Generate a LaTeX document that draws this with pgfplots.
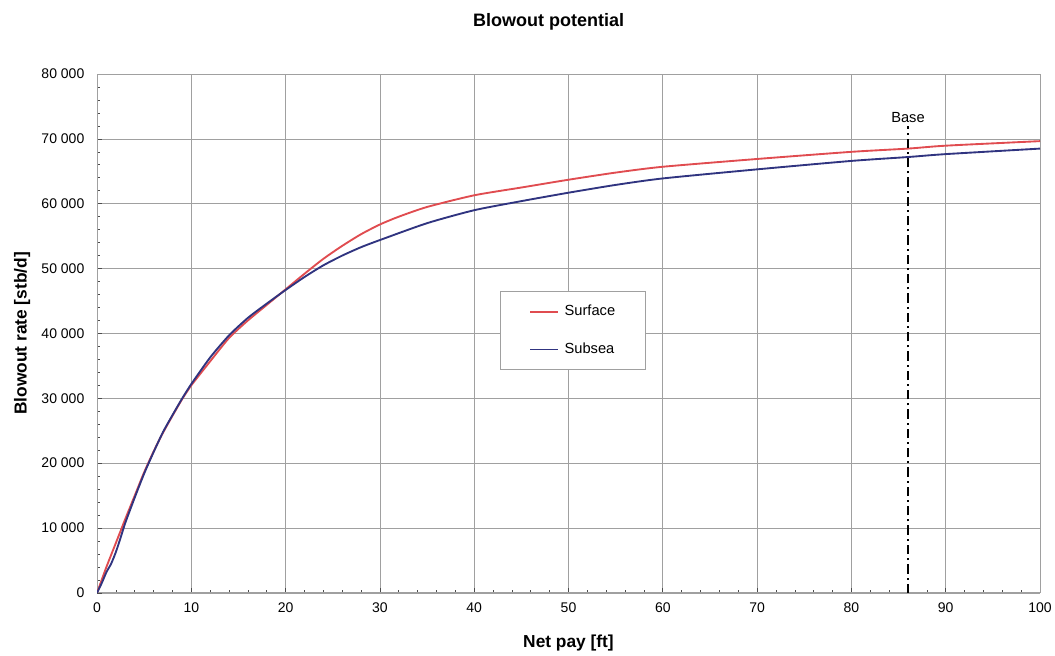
\documentclass[border=0pt]{standalone}
\usepackage{fontspec}
\setmainfont{Liberation Sans}
\usepackage{pgfplots}
\pgfplotsset{compat=1.18}
\definecolor{surfred}{RGB}{224,76,80}
\definecolor{subblue}{RGB}{48,52,128}
\definecolor{gridgray}{RGB}{160,160,160}
\begin{document}
\begin{tikzpicture}
\begin{axis}[
  name=ax,
  scale only axis,
  width=707pt, height=389pt,
  xmin=0, xmax=100, ymin=0, ymax=80000,
  xtick={0,10,...,100},
  ytick={0,10000,...,80000},
  minor x tick num=4,
  minor y tick num=4,
  xtick pos=left, ytick pos=left,
  tick align=inside,
  major tick length=4pt,
  minor tick length=2.5pt,
  every tick/.style={black!70, line width=0.5pt},
  grid=major,
  major grid style={gridgray, line width=0.5pt},
  axis line style={gridgray, line width=0.6pt},
  scaled y ticks=false,
  /pgf/number format/assume math mode=true,
  /pgf/number format/1000 sep={\ },
  ticklabel style={font=\fontsize{10.5}{12}\selectfont},
  xticklabel style={yshift=-3.5pt},
  yticklabel style={xshift=-6pt},
  title={\textbf{Blowout potential}},
  title style={font=\fontsize{13.5}{16}\selectfont, at={(axis description cs:0.479,1.085)}, anchor=center},
  xlabel={\textbf{Net pay [ft]}},
  xlabel style={font=\fontsize{13}{15}\selectfont, at={(axis description cs:0.5,-0.096)}, anchor=center},
  ylabel={\textbf{Blowout rate [stb/d]}},
  ylabel style={font=\fontsize{13}{15}\selectfont, at={(axis description cs:-0.0795,0.5)}, anchor=center, rotate=0},
  legend style={at={(axis description cs:0.427,0.582)}, anchor=north west,
    draw=gridgray, line width=0.6pt, inner xsep=22pt, inner ysep=9.5pt, row sep=17pt, column sep=3pt,
    font=\fontsize{11}{13}\selectfont, nodes={inner sep=1pt}},
  legend cell align=left,
  legend image code/.code={\draw[#1, line width=1.4pt] (0pt,0pt) -- (21pt,0pt);},
]
\addplot[surfred, line width=1.4pt, smooth, tension=0.4] coordinates {
(0,0) (1,4000) (2,7700) (3,11400) (4,15000) (5,18600) (6,21800) (7,24700) (8,27300) (9,29800) (10,32000) (12,35700) (14,39300) (16,42000) (18,44400) (20,46800) (22,49200) (24,51500) (26,53500) (28,55300) (30,56800) (32,58000) (35,59500) (40,61300) (45,62500) (50,63700) (55,64800) (60,65700) (70,66900) (80,68000) (86,68500) (90,68950) (100,69650)
};
\addlegendentry{Surface}
\addplot[subblue, line width=1.4pt, smooth, tension=0.4] coordinates {
(0,0) (0.5,1500) (1,3200) (1.5,4500) (2,6300) (2.5,8500) (3,10800) (4,14700) (5,18400) (6,21700) (7,24800) (8,27400) (9,29900) (10,32200) (12,36300) (14,39700) (16,42400) (18,44600) (20,46700) (22,48700) (24,50500) (26,52000) (28,53300) (30,54400) (35,57000) (40,59000) (45,60400) (50,61700) (55,62900) (60,63900) (70,65300) (80,66600) (86,67200) (90,67650) (100,68500)
};
\addlegendentry{Subsea}
\addplot[black, line width=0.9pt, dash pattern=on 7pt off 3pt on 1.5pt off 3pt, forget plot] coordinates {(86,0) (86,72000)};
\node[anchor=south, font=\fontsize{11}{13}\selectfont, inner sep=1pt] at (axis cs:86,72200) {Base};
\end{axis}
\pgfresetboundingbox
\path ([shift={(-72.75pt,-47.25pt)}]ax.south west) rectangle ([shift={(11.25pt,55.5pt)}]ax.north east);
\end{tikzpicture}
\end{document}
